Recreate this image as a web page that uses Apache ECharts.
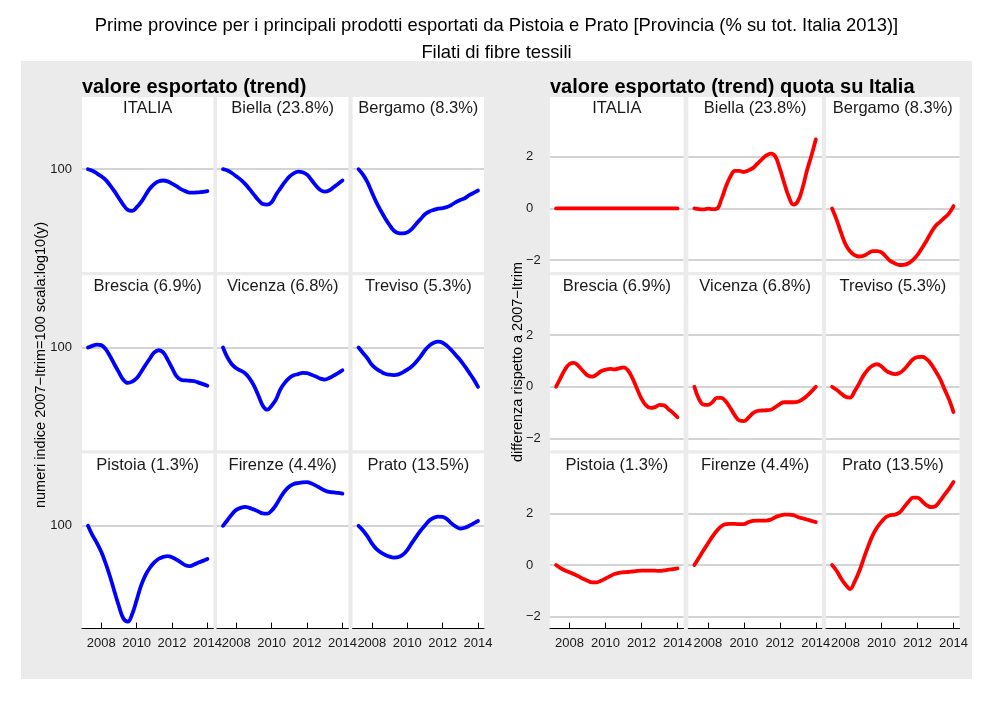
<!DOCTYPE html>
<html><head><meta charset="utf-8">
<script src="https://cdn.jsdelivr.net/npm/echarts@6/dist/echarts.min.js"></script>
<style>html,body{margin:0;padding:0;background:#fff}#c{width:992px;height:702px}</style>
</head><body><div id="c"></div>
<script>
// ---------------- data ----------------
const years = [2007.25,2007.5,2007.75,2008,2008.25,2008.5,2008.75,2009,2009.25,2009.5,2009.75,2010,
  2010.25,2010.5,2010.75,2011,2011.25,2011.5,2011.75,2012,2012.25,2012.5,2012.75,2013,2013.25,2013.5,2013.75,2014];
const provinces = ['ITALIA','Biella (23.8%)','Bergamo (8.3%)','Brescia (6.9%)','Vicenza (6.8%)',
  'Treviso (5.3%)','Pistoia (1.3%)','Firenze (4.4%)','Prato (13.5%)'];
const xTicks = [2008, 2010, 2012, 2014];
const trendTicks = [100];
const quotaTicks = [-2, 0, 2];

// valore esportato (trend), numeri indice 2007-Itrim = 100
const trendItalia  = [100,99.4,98.5,97.4,96.1,94.2,92.1,89.8,87.6,86.0,85.7,86.8,88.5,90.8,93.1,94.7,95.6,95.9,95.6,94.8,93.9,92.9,92.2,91.7,91.7,91.8,91.9,92.2];
const trendBiella  = [100,99.5,98.6,97.4,96.2,94.7,92.9,91.0,89.2,87.9,87.7,88.5,91.0,93.2,95.4,97.3,98.5,99.1,98.9,98.0,96.1,94.1,92.6,92.0,92.4,93.5,94.7,95.9];
const trendBergamo = [100,98.0,95.3,91.8,88.5,85.8,83.4,81.3,79.6,78.9,78.8,79.1,80.1,81.6,83.1,84.6,85.5,86.0,86.4,86.6,86.9,87.6,88.5,89.2,89.8,90.8,91.6,92.4];
const trendBrescia = [100,100.6,101.1,100.9,99.4,96.8,93.9,91.2,88.7,87.7,88.1,89.2,91.3,93.7,96.0,98.2,99.0,98.2,95.6,92.7,89.9,88.7,88.5,88.4,88.3,87.8,87.3,86.8];
const trendVicenza = [100,96.4,94.0,92.6,91.8,90.9,89.2,86.8,83.7,80.6,79.4,80.6,82.5,85.7,87.8,89.3,90.2,90.6,91.0,90.9,90.4,89.8,89.1,88.8,89.3,90.1,90.9,91.9];
const trendTreviso = [100,98.0,96.1,93.8,92.4,91.5,90.7,90.4,90.3,90.5,91.2,92.1,93.2,94.8,96.7,99.0,100.7,101.8,102.2,101.8,100.6,99.0,97.2,95.4,93.3,91.1,88.9,86.4];
const trendPistoia = [100,96.6,93.9,90.8,87.0,82.8,78.3,74.2,70.9,70.1,72.1,75.9,80.1,83.3,85.6,87.3,88.5,89.1,89.4,89.0,88.2,87.3,86.4,86.1,86.6,87.3,87.8,88.4];
const trendFirenze = [100,102.1,104.3,106.1,106.9,107.3,106.9,106.2,105.5,104.7,104.6,105.8,108.1,111.1,113.8,115.7,116.8,117.2,117.5,117.6,117.0,116.1,115.0,114.0,113.4,113.2,113.0,112.7];
const trendPrato   = [100,98.3,96.2,93.7,91.8,90.6,89.8,89.2,88.9,89.0,89.8,91.4,93.7,96.0,98.2,100.1,102.0,103.0,103.5,103.4,102.5,100.9,99.7,99.0,99.3,100,100.9,101.8];

// valore esportato (trend) quota su Italia, differenza rispetto a 2007-Itrim
const quotaItalia  = [0,0,0,0,0,0,0,0,0,0,0,0,0,0,0,0,0,0,0,0,0,0,0,0,0,0,0,0];
const quotaBiella  = [0,-0.03,-0.04,-0.01,-0.03,-0.01,0.35,0.84,1.23,1.45,1.45,1.41,1.47,1.56,1.73,1.90,2.05,2.12,2.01,1.54,0.97,0.45,0.15,0.28,0.76,1.45,2.03,2.67];
const quotaBergamo = [0,-0.43,-0.94,-1.39,-1.66,-1.81,-1.86,-1.83,-1.74,-1.65,-1.65,-1.70,-1.87,-2.04,-2.13,-2.19,-2.18,-2.12,-1.99,-1.80,-1.53,-1.25,-0.94,-0.68,-0.52,-0.36,-0.19,0.09];
const quotaBrescia = [0,0.34,0.67,0.88,0.92,0.80,0.61,0.44,0.39,0.47,0.60,0.66,0.69,0.67,0.71,0.75,0.63,0.32,-0.08,-0.47,-0.72,-0.82,-0.79,-0.70,-0.72,-0.87,-1.01,-1.18];
const quotaVicenza = [0,-0.47,-0.69,-0.70,-0.60,-0.43,-0.43,-0.57,-0.82,-1.11,-1.31,-1.33,-1.20,-1.03,-0.94,-0.92,-0.91,-0.89,-0.79,-0.67,-0.60,-0.60,-0.60,-0.58,-0.49,-0.36,-0.19,0];
const quotaTreviso = [0,-0.12,-0.26,-0.39,-0.42,-0.18,0.12,0.44,0.67,0.82,0.87,0.78,0.62,0.53,0.49,0.53,0.67,0.87,1.06,1.15,1.16,1.07,0.88,0.61,0.31,-0.10,-0.49,-0.98];
const quotaPistoia = [0,-0.12,-0.21,-0.28,-0.36,-0.44,-0.53,-0.61,-0.67,-0.67,-0.61,-0.52,-0.43,-0.35,-0.30,-0.28,-0.27,-0.25,-0.23,-0.22,-0.22,-0.22,-0.22,-0.23,-0.21,-0.18,-0.16,-0.13];
const quotaFirenze = [0,0.28,0.56,0.83,1.10,1.33,1.50,1.58,1.59,1.59,1.58,1.58,1.66,1.71,1.72,1.72,1.72,1.76,1.85,1.91,1.95,1.95,1.93,1.86,1.81,1.76,1.71,1.66];
const quotaPrato   = [0,-0.22,-0.52,-0.76,-0.93,-0.65,-0.26,0.23,0.71,1.14,1.45,1.68,1.86,1.93,1.95,2.03,2.24,2.45,2.61,2.61,2.47,2.32,2.24,2.28,2.48,2.72,2.95,3.21];

const trendSeries = [trendItalia,trendBiella,trendBergamo,trendBrescia,trendVicenza,trendTreviso,trendPistoia,trendFirenze,trendPrato];
const quotaSeries = [quotaItalia,quotaBiella,quotaBergamo,quotaBrescia,quotaVicenza,quotaTreviso,quotaPistoia,quotaFirenze,quotaPrato];

// ---------------- layout ----------------
const FONT = '"Liberation Sans", Arial, Helvetica, sans-serif';
const rowTop = [118.5, 296.8, 475.1], panelH = 153.5, stripH = 21.5;
const panels = [
  {cols: [82, 217, 352.6], w: 131.4, data: trendSeries, color: '#0000ff', log: true,
   title: 'valore esportato (trend)', ytitle: 'numeri indice 2007\u2212Itrim=100 scala:log10(y)', ytx: 41, yty: 365},
  {cols: [550, 688.3, 826], w: 133.6, data: quotaSeries, color: '#ff0000', log: false,
   title: 'valore esportato (trend) quota su Italia', ytitle: 'differenza rispetto a 2007\u2212Itrim', ytx: 518, yty: 362}
];
const xMin = 2006.9125, xMax = 2014.3375;

const grids = [], xAxes = [], yAxes = [], series = [];
const graphics = [
  {type: 'rect', z: -10, shape: {x: 21, y: 61, width: 951, height: 618}, style: {fill: '#ebebeb'}, silent: true},
  {type: 'text', z: 10, x: 496.5, y: 26, style: {text: 'Prime province per i principali prodotti esportati da Pistoia e Prato [Provincia (% su tot. Italia 2013)]',
    font: '18.4px ' + FONT, fill: '#000', align: 'center', verticalAlign: 'middle'}},
  {type: 'text', z: 10, x: 496.5, y: 52.5, style: {text: 'Filati di fibre tessili',
    font: '18.4px ' + FONT, fill: '#000', align: 'center', verticalAlign: 'middle'}}
];

panels.forEach((p, pi) => {
  graphics.push({type: 'text', z: 10, x: p.cols[0], y: 87, style: {text: p.title,
    font: 'bold 20px ' + FONT, fill: '#000', align: 'left', verticalAlign: 'middle'}});
  graphics.push({type: 'text', z: 10, x: p.ytx, y: p.yty, rotation: Math.PI / 2, style: {text: p.ytitle,
    font: '14.5px ' + FONT, fill: '#000', align: 'center', verticalAlign: 'middle'}});
  for (let i = 0; i < 9; i++) {
    const r = Math.floor(i / 3), c = i % 3;
    const idx = grids.length;
    const left = p.cols[c], top = rowTop[r];
    grids.push({left: left, top: top, width: p.w, height: panelH, show: true,
      backgroundColor: '#ffffff', borderWidth: 0, containLabel: false});
    graphics.push({type: 'rect', z: -5, shape: {x: left, y: top - stripH, width: p.w, height: stripH + 1},
      style: {fill: '#ffffff'}, silent: true});
    graphics.push({type: 'text', z: 10, x: left + p.w / 2, y: top - 10, style: {text: provinces[i],
      font: '16.5px ' + FONT, fill: '#1a1a1a', align: 'center', verticalAlign: 'middle'}});
    const bottom = r === 2;
    xAxes.push({type: 'value', gridIndex: idx, min: xMin, max: xMax,
      axisLine: {show: bottom, onZero: false, lineStyle: {color: '#000', width: 1}},
      axisTick: {show: bottom, inside: true, length: 6, customValues: xTicks, lineStyle: {color: '#000', width: 1}},
      axisLabel: {show: bottom, customValues: xTicks, margin: 8, fontSize: 13, fontFamily: FONT, color: '#1a1a1a',
        formatter: v => String(v)},
      splitLine: {show: false}});
    if (p.log) {
      yAxes.push({type: 'log', logBase: 10, gridIndex: idx, min: 68.3, max: 120.7,
        axisLine: {show: false}, axisTick: {show: false, customValues: trendTicks},
        axisLabel: {show: c === 0, customValues: trendTicks, margin: 10, fontSize: 13, fontFamily: FONT, color: '#1a1a1a',
          formatter: v => String(Math.round(v))},
        splitLine: {show: true, lineStyle: {color: '#c4c4c4', width: 1.6}}});
    } else {
      yAxes.push({type: 'value', gridIndex: idx, min: -2.46, max: 3.48,
        axisLine: {show: false}, axisTick: {show: false, customValues: quotaTicks},
        axisLabel: {show: c === 0, customValues: quotaTicks, margin: 24, align: 'left', fontSize: 13, fontFamily: FONT, color: '#1a1a1a',
          formatter: v => (v < 0 ? '\u2212' + Math.abs(v) : String(v))},
        splitLine: {show: true, lineStyle: {color: '#c4c4c4', width: 1.6}}});
    }
    series.push({type: 'line', xAxisIndex: idx, yAxisIndex: idx, smooth: 0.4, showSymbol: false, silent: true,
      data: years.map((yr, j) => [yr, p.data[i][j]]),
      lineStyle: {color: p.color, width: 3.8, cap: 'round', join: 'round'}});
  }
});

const chart = echarts.init(document.getElementById('c'), null, {renderer: 'canvas'});
chart.setOption({animation: false, backgroundColor: '#ffffff', grid: grids, xAxis: xAxes, yAxis: yAxes, series: series, graphic: graphics});
</script></body></html>
